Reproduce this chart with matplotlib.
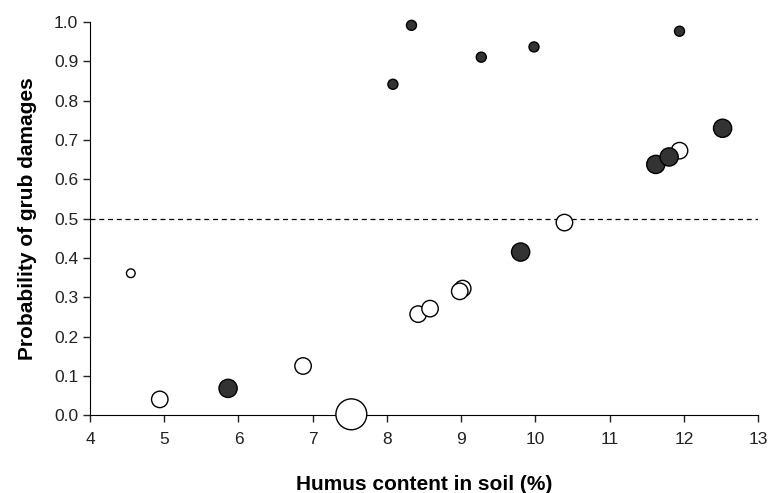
import numpy as np
import matplotlib.pyplot as plt

plt.rcParams['font.family'] = ['Liberation Sans', 'DejaVu Sans']

# sitios con daños (relleno oscuro)
x_lleno = [8.08, 8.33, 9.27, 9.98, 11.94, 5.86, 9.80, 11.62, 11.80, 12.52]
y_lleno = [0.842, 0.992, 0.911, 0.937, 0.977, 0.068, 0.415, 0.638, 0.657, 0.730]
n_lleno = [1, 1, 1, 1, 1, 3.3, 3.3, 3.3, 3.3, 3.3]

# sitios sin daños (blanco)
x_vacio = [4.55, 4.94, 6.87, 7.52, 8.42, 8.58, 9.02, 8.98, 10.39, 11.94]
y_vacio = [0.361, 0.040, 0.125, 0.002, 0.257, 0.271, 0.322, 0.315, 0.490, 0.673]
n_vacio = [0.75, 2.7, 2.7, 9.5, 2.7, 2.7, 2.7, 2.7, 2.7, 2.7]

umbral = 0.5

fig = plt.figure(figsize=(7.69, 4.93), dpi=100)
ax = fig.add_axes([0.117, 0.158, 0.869, 0.797])

escala = 52
ax.scatter(x_vacio, y_vacio, s=np.array(n_vacio) * escala, facecolor='white',
           edgecolor='black', linewidth=1.0, clip_on=False, zorder=3)
ax.scatter(x_lleno, y_lleno, s=np.array(n_lleno) * escala, facecolor='#333333',
           edgecolor='black', linewidth=1.0, clip_on=False, zorder=4)

ax.axhline(umbral, color='black', linestyle=(0, (4, 3)), linewidth=0.9, zorder=1)

ax.set_xlim(4, 13)
ax.set_ylim(0, 1.0)
ax.set_xticks(range(4, 14))
ax.set_yticks(np.arange(0, 1.01, 0.1))
ax.set_yticklabels([f"{v:.1f}" for v in np.arange(0, 1.01, 0.1)])
ax.tick_params(direction='out', length=5, width=1, labelsize=12.5, colors='#222222')
ax.tick_params(axis='x', pad=7)
for lado in ['top', 'right']:
    ax.spines[lado].set_visible(False)

ax.set_xlabel("Humus content in soil (%)", fontsize=15, fontweight='bold', labelpad=20)
ax.set_ylabel("Probability of grub damages", fontsize=15, fontweight='bold', labelpad=12)

fig.savefig("out.png", dpi=100)
